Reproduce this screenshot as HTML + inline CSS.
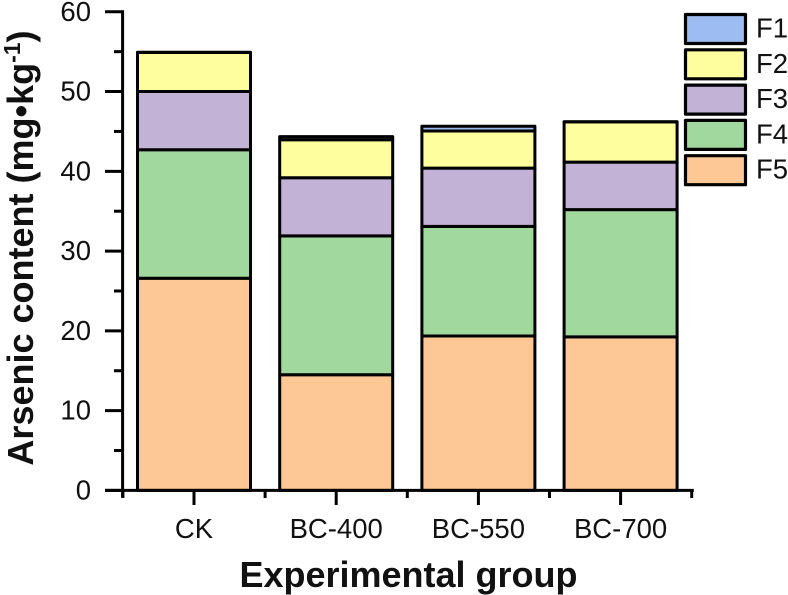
<!DOCTYPE html>
<html>
<head>
<meta charset="utf-8">
<style>
html,body{margin:0;padding:0;background:#fff;}
svg{display:block;}
text{font-family:"Liberation Sans",sans-serif;fill:#111;}
</style>
</head>
<body>
<svg id="chart" xmlns="http://www.w3.org/2000/svg" width="788" height="595" viewBox="0 0 788 595">
  <g id="bars"></g>
  <g id="axes"></g>
  <g id="legend"></g>
  <text x="408.5" y="587" text-anchor="middle" font-size="36" font-weight="bold">Experimental group</text>
  <text transform="translate(33,248) rotate(-90)" text-anchor="middle" font-size="36" font-weight="bold">Arsenic content (mg•kg<tspan font-size="23" dy="-13">-1</tspan><tspan dy="13">)</tspan></text>
</svg>
<script>
const categories = ["CK", "BC-400", "BC-550", "BC-700"];
const seriesNames = ["F5", "F4", "F3", "F2", "F1"];
const colors = ["#fdc896", "#a0d89e", "#c2b2d6", "#fefe9e", "#9dbcf2"];
const F5 = [26.6, 14.5, 19.35, 19.25];
const F4 = [16.1, 17.4, 13.75, 15.95];
const F3 = [7.3, 7.3, 7.3, 5.95];
const F2 = [4.9, 4.75, 4.65, 5.05];
const F1 = [0.02, 0.4, 0.6, 0.02];
const yTicks = [0, 10, 20, 30, 40, 50, 60];
const yMinorTicks = [5, 15, 25, 35, 45, 55];

const NS = "http://www.w3.org/2000/svg";
const y0 = 490.4, pxPerUnit = 7.977;
const x0 = 194, band = 142.2, barW = 113;
const yScale = v => y0 - v * pxPerUnit;
const xScale = i => x0 + i * band;
function mk(tag, parent, attrs) {
  const el = document.createElementNS(NS, tag);
  for (const k in attrs) el.setAttribute(k, attrs[k]);
  parent.appendChild(el);
  return el;
}
const sw = 3;
const barsG = document.getElementById("bars");
const axesG = document.getElementById("axes");
const legendG = document.getElementById("legend");
const allSeries = [F5, F4, F3, F2, F1];

categories.forEach((c, i) => {
  let acc = 0;
  allSeries.forEach((vals, s) => {
    const top = yScale(acc + vals[i]);
    const bot = yScale(acc);
    const r = mk("rect", barsG, {x: xScale(i) - barW / 2, y: top, width: barW, height: Math.max(bot - top, 0), fill: colors[s], stroke: "#000", "stroke-width": sw, "stroke-linejoin": "round"});
    
    
    acc += vals[i];
  });
});

const yAxis = mk("line", axesG, {x1: 122.6, x2: 122.6, y1: yScale(60) - 1.5, y2: y0 + 7, stroke: "#000", "stroke-width": 3});


const xAxis = mk("line", axesG, {x1: 105, x2: 693.8, y1: y0, y2: y0, stroke: "#000", "stroke-width": 3});



yTicks.forEach(v => {
  const t = mk("line", axesG, {x1: 105, x2: 122, y1: yScale(v), y2: yScale(v), stroke: "#000", "stroke-width": 3});
  
  
  const l = mk("text", axesG, {x: 91, y: yScale(v) + 9, "text-anchor": "end", "font-size": 27.5});
  
  
  l.textContent = v;
});
yMinorTicks.forEach(v => {
  const t = mk("line", axesG, {x1: 114, x2: 122, y1: yScale(v), y2: yScale(v), stroke: "#000", "stroke-width": 3});
  
  
});
categories.forEach((c, i) => {
  const t = mk("line", axesG, {x1: xScale(i), x2: xScale(i), y1: y0, y2: 505, stroke: "#000", "stroke-width": 3});
  
  
  const l = mk("text", axesG, {x: xScale(i), y: 538, "text-anchor": "middle", "font-size": 27.5});
  
  
  l.textContent = c;
});
for (let i = 0; i <= categories.length; i++) {
  const mx = xScale(i) - band / 2;
  const t = mk("line", axesG, {x1: mx, x2: mx, y1: y0, y2: 498, stroke: "#000", "stroke-width": 3});
  
  
}

const legendOrder = ["F1", "F2", "F3", "F4", "F5"];
legendOrder.forEach((name, i) => {
  const y = 14.5 + i * 35.3;
  const r = mk("rect", legendG, {x: 685.5, y: y, width: 60, height: 29, fill: colors[seriesNames.indexOf(name)], stroke: "#000", "stroke-width": 3.2, "stroke-linejoin": "round"});
  
  
  const t = mk("text", legendG, {x: 756, y: y + 23, "font-size": 27.5});
  
  
  t.textContent = name;
});
</script>
</body>
</html>
